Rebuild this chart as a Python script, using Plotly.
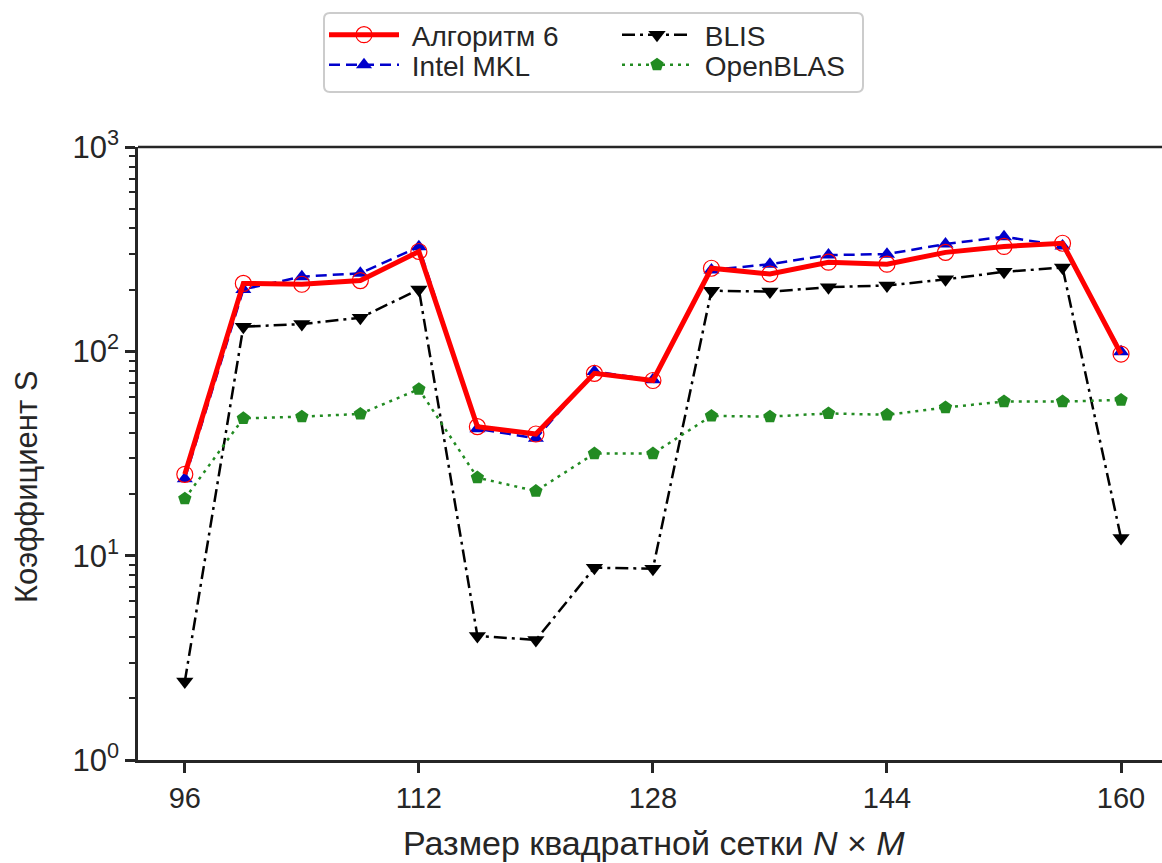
import plotly.graph_objects as go

sizes = [96, 100, 104, 108, 112, 116, 120, 124, 128, 132, 136, 140, 144, 148, 152, 156, 160]
alg6 = [25, 215, 213, 222, 308, 42.8, 39.4, 78, 72, 255, 239, 273, 267, 305, 326, 338, 97]
mkl = [23.8, 201, 232, 241, 325, 41.8, 37.5, 79.6, 72.5, 250, 267, 296, 299, 335, 364, 328, 99.6]
blis = [2.42, 132, 136, 146, 201, 4.05, 3.87, 8.73, 8.64, 198, 196, 206, 210, 225, 245, 257, 12.2]
openblas = [19.0, 47, 47.9, 49.4, 65.3, 24.1, 20.7, 31.6, 31.6, 48.3, 47.9, 49.7, 48.9, 53.1, 56.8, 56.8, 57.8]

x_ticks = [96, 112, 128, 144, 160]
y_ticks = [1, 10, 100, 1000]
y_ticktext = ["10<sup>0</sup>", "10<sup>1</sup>", "10<sup>2</sup>", "10<sup>3</sup>"]
y_minor = [m * 10 ** e for e in range(0, 3) for m in range(2, 10)]

FONT = "Liberation Sans, Arial, sans-serif"
AX = "#262626"
TXT = "#262626"

W, H = 1162, 863
L, R, T, B = 138, 0, 147, 103


def px_x(p):
    return (p - L) / (W - L - R)


def px_y(p):
    return (H - B - p) / (H - T - B)


NB = "\u00a0"

fig = go.Figure()
fig.add_trace(go.Scatter(x=sizes, y=mkl, name=NB + "Intel MKL", mode="lines+markers",
                         line=dict(color="#0000cc", width=2.5, dash="11px,6px"),
                         marker=dict(symbol="triangle-up", size=14, color="#0000cc"),
                         legend="legend2"))
fig.add_trace(go.Scatter(x=sizes, y=blis, name=NB + "BLIS", mode="lines+markers",
                         line=dict(color="black", width=2.5, dash="13px,5px,3px,5px"),
                         marker=dict(symbol="triangle-down", size=15, color="black"),
                         legend="legend3"))
fig.add_trace(go.Scatter(x=sizes, y=openblas, name=NB + "OpenBLAS", mode="lines+markers",
                         line=dict(color="#228b22", width=2.5, dash="3px,5px"),
                         marker=dict(symbol="pentagon", size=14, color="#228b22"),
                         legend="legend4"))
fig.add_trace(go.Scatter(x=sizes, y=alg6, name=NB + "Алгоритм 6", mode="lines+markers",
                         line=dict(color="#ff0000", width=5),
                         marker=dict(symbol="circle-open", size=16, color="#ff0000", line=dict(width=1.2)),
                         legend="legend"))

# legend border (rounded rectangle), in pixel coords converted to paper
x0, x1, y0, y1, r = 324, 863, 13, 92, 6
pts = [("M", x0 + r, y0), ("L", x1 - r, y0), ("Q", x1, y0), ("", x1, y0 + r), ("L", x1, y1 - r),
       ("Q", x1, y1), ("", x1 - r, y1), ("L", x0 + r, y1), ("Q", x0, y1), ("", x0, y1 - r),
       ("L", x0, y0 + r), ("Q", x0, y0), ("", x0 + r, y0)]
path = " ".join(f"{c} {px_x(a):.5f},{px_y(b):.5f}".strip() for c, a, b in pts) + " Z"


def leg(xp, yp):
    return dict(x=px_x(xp), y=px_y(yp), xanchor="left", yanchor="middle", orientation="v",
                bgcolor="rgba(0,0,0,0)", borderwidth=0, itemwidth=70,
                font=dict(size=28, color=TXT, family=FONT))


fig.update_layout(
    width=W, height=H,
    margin=dict(l=L, r=R, t=T, b=B, autoexpand=False),
    paper_bgcolor="white", plot_bgcolor="white",
    font=dict(family=FONT, size=28, color=TXT),
    showlegend=True,
    legend=leg(324, 35),
    legend2=leg(324, 65),
    legend3=leg(617, 35),
    legend4=leg(617, 65),
    xaxis=dict(range=[92.8, 162.8], tickvals=x_ticks, showgrid=False, zeroline=False,
               showline=True, linecolor=AX, linewidth=2.5, ticks="outside", ticklen=10, tickwidth=2.5,
               tickcolor=AX, tickfont=dict(size=29, color=TXT), tickangle=0),
    yaxis=dict(type="log", range=[0, 3], tickvals=y_ticks, ticktext=y_ticktext, showgrid=False,
               zeroline=False, showline=True, linecolor=AX, linewidth=2.5, ticks="outside", ticklen=10,
               tickwidth=2.5, tickcolor=AX, tickfont=dict(size=31, color=TXT),
               minor=dict(tickvals=y_minor, ticks="outside", ticklen=6, tickwidth=1.5, tickcolor=AX,
                          showgrid=False)),
    shapes=[
        dict(type="line", xref="paper", yref="paper", x0=0, x1=1, y0=1, y1=1,
             line=dict(color=AX, width=2.5)),
        dict(type="path", xref="paper", yref="paper", path=path,
             line=dict(color="#cccccc", width=2), fillcolor="rgba(0,0,0,0)", layer="above"),
    ],
    annotations=[
        dict(text="Размер квадратной сетки <i>N</i> × <i>M</i>", xref="paper", yref="paper",
             x=px_x(654), y=px_y(843), xanchor="center", yanchor="middle", showarrow=False,
             font=dict(size=34, color=TXT)),
        dict(text="Коэффициент S", xref="paper", yref="paper", x=px_x(26), y=px_y(487),
             xanchor="center", yanchor="middle", textangle=-90, showarrow=False,
             font=dict(size=31, color=TXT)),
    ],
)

fig.write_html("out.html")
